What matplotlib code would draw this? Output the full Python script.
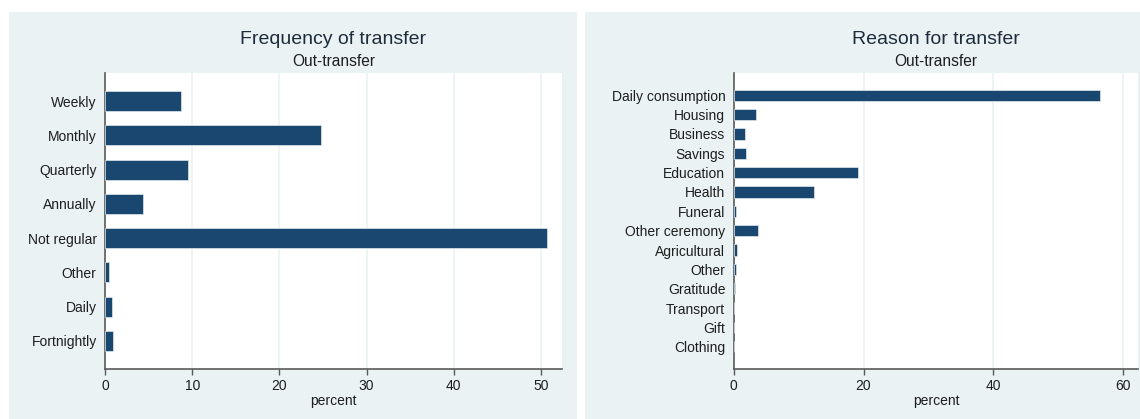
import matplotlib.pyplot as plt
from matplotlib.patches import Rectangle

# data (percent of out-transfers)
freq_labels = ['Weekly', 'Monthly', 'Quarterly', 'Annually', 'Not regular',
               'Other', 'Daily', 'Fortnightly']
freq_values = [8.75, 24.8, 9.5, 4.4, 50.7, 0.5, 0.75, 0.9]

reason_labels = ['Daily consumption', 'Housing', 'Business', 'Savings',
                 'Education', 'Health', 'Funeral', 'Other ceremony',
                 'Agricultural', 'Other', 'Gratitude', 'Transport', 'Gift',
                 'Clothing']
reason_values = [56.4, 3.4, 1.8, 1.9, 19.2, 12.4, 0.4, 3.8, 0.5, 0.35,
                 0.15, 0.12, 0.1, 0.1]

freq_ticks = [0, 10, 20, 30, 40, 50]
reason_ticks = [0, 20, 40, 60]

plt.rcParams['font.family'] = ['Liberation Sans', 'DejaVu Sans']

W, H = 1140, 419
BG = '#eaf2f3'
BAR = '#1a476f'
TXT = '#1e1e1e'

fig = plt.figure(figsize=(W / 100, H / 100), dpi=100, facecolor='white')

# grey panel backgrounds (pixel boxes -> figure fractions)
for x0, x1 in [(9, 577), (585, 1140)]:
    fig.patches.append(Rectangle((x0 / W, 0), (x1 - x0) / W, (H - 12) / H,
                                 transform=fig.transFigure, facecolor=BG,
                                 edgecolor='none', zorder=-10))


def panel(px0, px1, labels, values, ticks, xmax, pad, title):
    bottom = (H - 369) / H
    height = (369 - 73) / H
    ax = fig.add_axes([px0 / W, bottom, (px1 - px0) / W, height])
    ax.set_facecolor('white')
    n = len(labels)
    pos = list(range(n))
    ax.barh(pos, values, height=0.58, color=BAR, edgecolor='#dfe8ee',
            linewidth=0.5, zorder=3)
    ax.set_yticks(pos)
    ax.set_yticklabels(labels, fontsize=10, color=TXT)
    ax.set_ylim(n - 1 + pad, -pad)
    ax.set_xlim(0, xmax)
    ax.set_xticks(ticks)
    ax.set_xticklabels([str(t) for t in ticks], fontsize=10, color=TXT)
    ax.tick_params(axis='y', length=0, pad=6)
    ax.tick_params(axis='x', length=4, width=1, color='#5a5a5a', pad=3)
    ax.grid(axis='x', color=BG, linewidth=1.2, zorder=0)
    ax.set_axisbelow(True)
    for s in ['top', 'right']:
        ax.spines[s].set_visible(False)
    for s in ['left', 'bottom']:
        ax.spines[s].set_color('#5a5a5a')
        ax.spines[s].set_linewidth(1.2)
    ax.set_xlabel('percent', fontsize=10, color=TXT, labelpad=1)
    cx = (px0 + px1) / 2 / W
    fig.text(cx, 1 - 40 / H, title, ha='center', va='center', fontsize=14,
             color='#1e2d3c')
    fig.text(cx, 1 - 62 / H, 'Out-transfer', ha='center', va='center',
             fontsize=11.2, color=TXT)
    return ax


panel(105, 562, freq_labels, freq_values, freq_ticks, 52.4, 0.82,
      'Frequency of transfer')
panel(733.6, 1138.3, reason_labels, reason_values, reason_ticks, 62.3, 1.15,
      'Reason for transfer')

fig.savefig('out.png', dpi=100, facecolor='white')
